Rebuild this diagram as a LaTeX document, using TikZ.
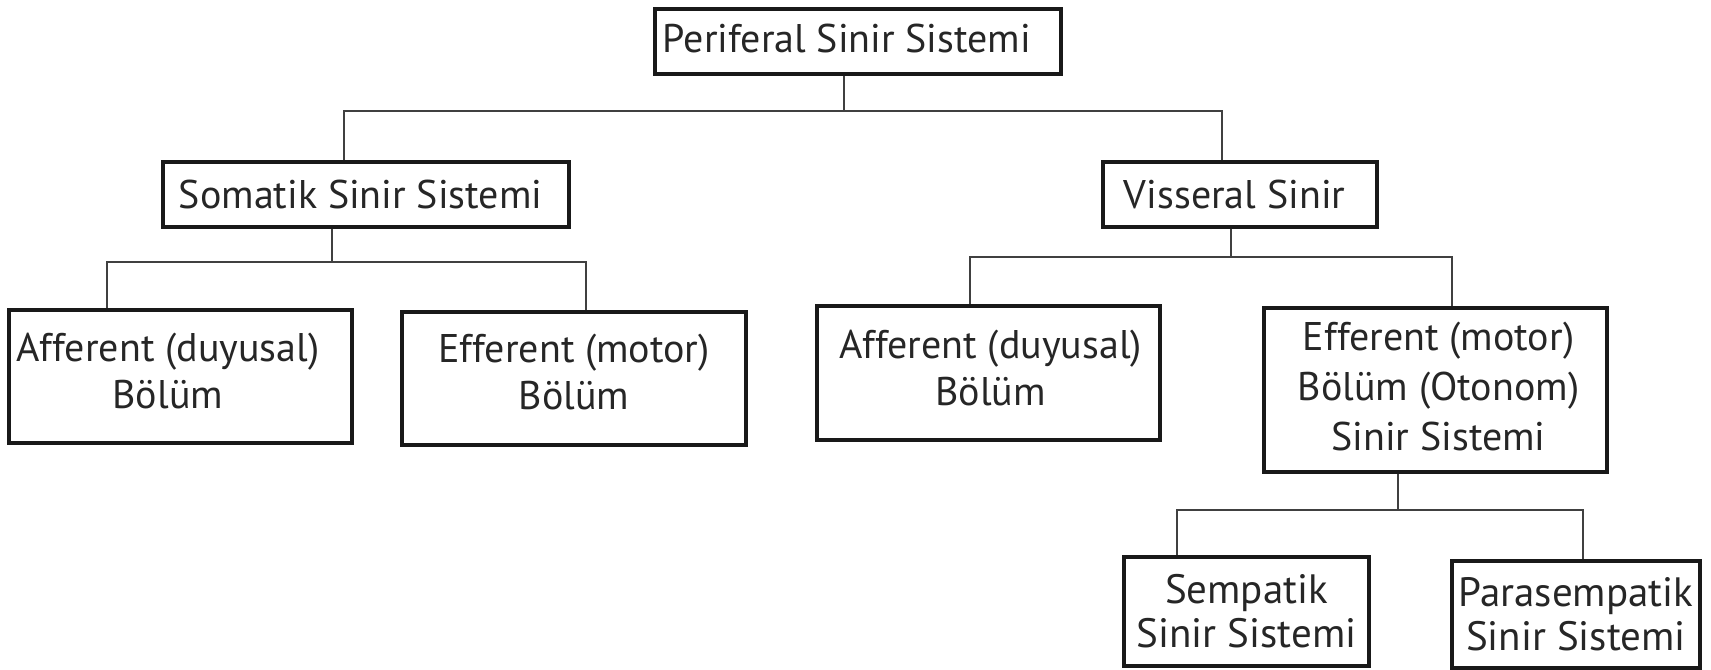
\documentclass[tikz,border=0pt]{standalone}
\usepackage{fontspec}
\setmainfont{PT Sans}
\begin{document}
\begin{tikzpicture}[x=0.5pt,y=-0.5pt,
  box/.style={draw=black!90,line width=1.7pt,rectangle,inner sep=0pt},
  txt/.style={align=center,inner sep=0pt,text=black!85,font=\fontsize{20}{23.5}\selectfont},
  txtef/.style={txt,font=\fontsize{20}{25}\selectfont},
  txtlg/.style={txt,font=\fontsize{20.5}{22}\selectfont},
  conn/.style={draw=black!75,line width=0.7pt}]
\useasboundingbox (0,0) rectangle (1711,669);
% boxes
\node[box,minimum width=203pt,minimum height=32.5pt] (top) at (858,41.5) {};
\node[box,minimum width=203pt,minimum height=32.5pt] (som) at (366,194.5) {};
\node[box,minimum width=137pt,minimum height=32.5pt] (vis) at (1240,194.5) {};
\node[box,minimum width=171.5pt,minimum height=66.5pt] (af1) at (180.5,376.5) {};
\node[box,minimum width=172pt,minimum height=66.5pt] (ef1) at (574,378.5) {};
\node[box,minimum width=171.5pt,minimum height=67pt] (af2) at (988.5,373) {};
\node[box,minimum width=171.5pt,minimum height=82pt] (ef2) at (1435.5,390) {};
\node[box,minimum width=122.5pt,minimum height=54.5pt] (sem) at (1246.5,611.5) {};
\node[box,minimum width=124pt,minimum height=53.5pt] (par) at (1576,614.5) {};
% texts
\node[txt] (ttop) at ([xshift=-5.5pt,yshift=1.5pt]top.center) {Periferal Sinir Sistemi};
\node[txt] (tsom) at ([xshift=-2.7pt]som.center) {Somatik Sinir Sistemi};
\node[txt] (tvis) at ([xshift=-2.7pt]vis.center) {Visseral Sinir};
\node[txt] (taf1) at ([xshift=-6.3pt,yshift=3pt]af1.center) {Afferent (duyusal)\\Bölüm};
\node[txt] (tef1) at ([yshift=3.5pt]ef1.center) {Efferent (motor)\\Bölüm};
\node[txt] (taf2) at ([xshift=1pt,yshift=2.5pt]af2.center) {Afferent (duyusal)\\Bölüm};
\node[txtef] (tef2) at ([xshift=1.5pt,yshift=2pt]ef2.center) {Efferent (motor)\\Bölüm (Otonom)\\Sinir Sistemi};
\node[txtlg] (tsem) at (sem.center) {Sempatik\\Sinir Sistemi};
\node[txtlg] (tpar) at (par.center) {Parasempatik\\Sinir Sistemi};
% connectors
\coordinate (j1) at (844,111);
\coordinate (c1) at (344,111);
\coordinate (c2) at (1222,111);
\coordinate (j2) at (332,262);
\coordinate (c3) at (107,262);
\coordinate (c4) at (586,262);
\coordinate (j3) at (1231,257);
\coordinate (c5) at (970,257);
\coordinate (c6) at (1452,257);
\coordinate (j4) at (1398,510);
\coordinate (c7) at (1177,510);
\coordinate (c8) at (1583,510);
\draw[conn] (top.south -| j1) -- (j1);
\draw[conn] (som.north -| c1) |- (c2) -- (vis.north -| c2);
\draw[conn] (som.south -| j2) -- (j2);
\draw[conn] (af1.north -| c3) |- (c4) -- (ef1.north -| c4);
\draw[conn] (vis.south -| j3) -- (j3);
\draw[conn] (af2.north -| c5) |- (c6) -- (ef2.north -| c6);
\draw[conn] (ef2.south -| j4) -- (j4);
\draw[conn] (sem.north -| c7) |- (c8) -- (par.north -| c8);
\end{tikzpicture}
\end{document}
